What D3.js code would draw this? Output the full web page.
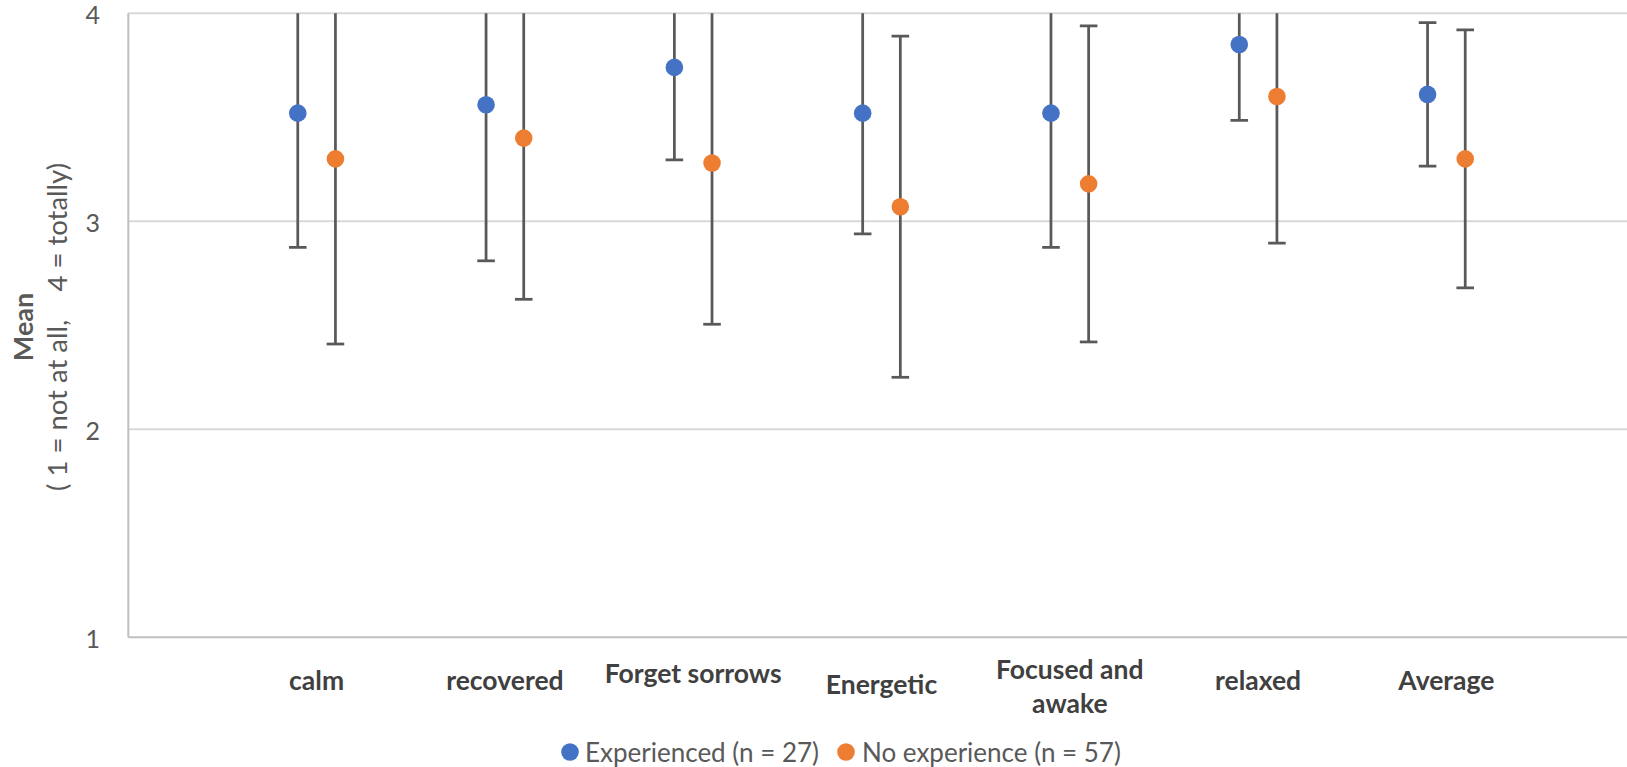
<!DOCTYPE html>
<html>
<head>
<meta charset="utf-8">
<script src="https://cdn.jsdelivr.net/npm/d3@7"></script>
<style>
  html, body { margin: 0; padding: 0; background: #ffffff; }
  svg { display: block; font-family: Lato, "Open Sans", sans-serif; }
</style>
</head>
<body>
<svg id="chart" width="1627" height="767"></svg>
<script>
// Categories (x positions 1..7) and the two groups' means with their error half-widths
const categories = ["calm", "recovered", "Forget sorrows", "Energetic", "Focused and\nawake", "relaxed", "Average"];
const experiencedMean = [3.52, 3.56, 3.74, 3.52, 3.52, 3.85, 3.61];
const experiencedErr  = [0.645, 0.75, 0.445, 0.58, 0.645, 0.365, 0.345];
const noExperienceMean = [3.30, 3.40, 3.28, 3.07, 3.18, 3.60, 3.30];
const noExperienceErr  = [0.89, 0.775, 0.775, 0.82, 0.76, 0.705, 0.62];
const seriesNames = ["Experienced (n = 27)", "No experience (n = 57)"];
const seriesColors = ["#4472C4", "#ED7D31"];
const yTicks = [1, 2, 3, 4];

// Layout
const W = 1627, H = 767;
const plotLeft = 128.3, plotTop = 13.3, plotBottom = 637.3;
const step = 188.3;
const seriesOffset = 0.1;            // x shift of each group from its category
const labelBaseline = 690, labelLineHeight = 34;
const labelNudge = [0, 0, -7, 4, -11, 0, 0];

const svg = d3.select("#chart");

const x = d3.scaleLinear().domain([0, 8]).range([plotLeft, plotLeft + 8 * step]);
const y = d3.scaleLinear().domain([1, 4]).range([plotBottom, plotTop]);

// Horizontal gridlines
svg.append("g")
  .selectAll("line")
  .data(yTicks.filter(t => t > 1))
  .join("line")
  .attr("x1", plotLeft).attr("x2", W)
  .attr("y1", d => y(d)).attr("y2", d => y(d))
  .attr("stroke", "#d9d9d9").attr("stroke-width", 2);

// Axes lines
svg.append("line")
  .attr("x1", plotLeft).attr("x2", W)
  .attr("y1", y(1)).attr("y2", y(1))
  .attr("stroke", "#bfbfbf").attr("stroke-width", 2);
svg.append("line")
  .attr("x1", plotLeft).attr("x2", plotLeft)
  .attr("y1", y(4)).attr("y2", y(1))
  .attr("stroke", "#bfbfbf").attr("stroke-width", 2);

// Y tick labels
svg.append("g")
  .selectAll("text")
  .data(yTicks)
  .join("text")
  .attr("x", 100)
  .attr("y", d => y(d) + 2)
  .attr("dy", "0.35em")
  .attr("text-anchor", "end")
  .attr("fill", "#595959")
  .attr("font-size", 25)
  .text(d => d);

// Y axis title (two lines, rotated)
const yTitle = svg.append("g").attr("transform", "translate(0,327) rotate(-90)");
yTitle.append("text")
  .attr("x", 0).attr("y", 33)
  .attr("text-anchor", "middle")
  .attr("font-weight", "bold")
  .attr("font-size", 27)
  .attr("fill", "#595959")
  .text("Mean");
yTitle.append("text")
  .attr("x", 0).attr("y", 67)
  .attr("text-anchor", "middle")
  .attr("font-size", 27.5)
  .attr("fill", "#595959")
  .attr("xml:space", "preserve")
  .style("white-space", "pre")
  .text("( 1 = not at all,    4 = totally)");

// Clip marks to the plot area
svg.append("defs").append("clipPath").attr("id", "plotClip")
  .append("rect")
  .attr("x", plotLeft).attr("y", plotTop)
  .attr("width", W - plotLeft).attr("height", plotBottom - plotTop);

const series = [
  { name: seriesNames[0], color: seriesColors[0], mean: experiencedMean, err: experiencedErr, shift: -seriesOffset },
  { name: seriesNames[1], color: seriesColors[1], mean: noExperienceMean, err: noExperienceErr, shift: seriesOffset }
];

const marks = svg.append("g").attr("clip-path", "url(#plotClip)");
const capHalf = 8.8;

series.forEach(s => {
  const pts = s.mean.map((m, i) => ({ x: i + 1 + s.shift, m, e: s.err[i] }));
  const g = marks.append("g");
  // error bar stems
  g.selectAll("line.stem").data(pts).join("line").attr("class", "stem")
    .attr("x1", d => x(d.x)).attr("x2", d => x(d.x))
    .attr("y1", d => y(d.m + d.e)).attr("y2", d => y(d.m - d.e))
    .attr("stroke", "#595959").attr("stroke-width", 2.75);
  // caps
  ["top", "bottom"].forEach(side => {
    g.selectAll("line.cap-" + side).data(pts).join("line").attr("class", "cap-" + side)
      .attr("x1", d => x(d.x) - capHalf).attr("x2", d => x(d.x) + capHalf)
      .attr("y1", d => y(side === "top" ? d.m + d.e : d.m - d.e))
      .attr("y2", d => y(side === "top" ? d.m + d.e : d.m - d.e))
      .attr("stroke", "#595959").attr("stroke-width", 2.75);
  });
});

series.forEach(s => {
  const pts = s.mean.map((m, i) => ({ x: i + 1 + s.shift, m }));
  marks.append("g").selectAll("circle").data(pts).join("circle")
    .attr("cx", d => x(d.x)).attr("cy", d => y(d.m))
    .attr("r", 8.8)
    .attr("fill", s.color);
});

// Category labels
const catG = svg.append("g");
categories.forEach((c, i) => {
  const t = catG.append("text")
    .attr("text-anchor", "middle")
    .attr("font-weight", "bold")
    .attr("font-size", 26.5)
    .attr("fill", "#404040");
  c.split("\n").forEach((line, j) => {
    t.append("tspan")
      .attr("x", x(i + 1))
      .attr("y", labelBaseline + labelNudge[i] + j * labelLineHeight)
      .text(line);
  });
});

// Legend
const legend = [
  { name: seriesNames[0], color: seriesColors[0], cx: 570, tx: 585 },
  { name: seriesNames[1], color: seriesColors[1], cx: 846, tx: 862 }
];
const lg = svg.append("g");
legend.forEach(l => {
  lg.append("circle").attr("cx", l.cx).attr("cy", 752).attr("r", 8.8).attr("fill", l.color);
  lg.append("text").attr("x", l.tx).attr("y", 762)
    .attr("font-size", 26).attr("fill", "#595959")
    .text(l.name);
});
</script>
</body>
</html>
